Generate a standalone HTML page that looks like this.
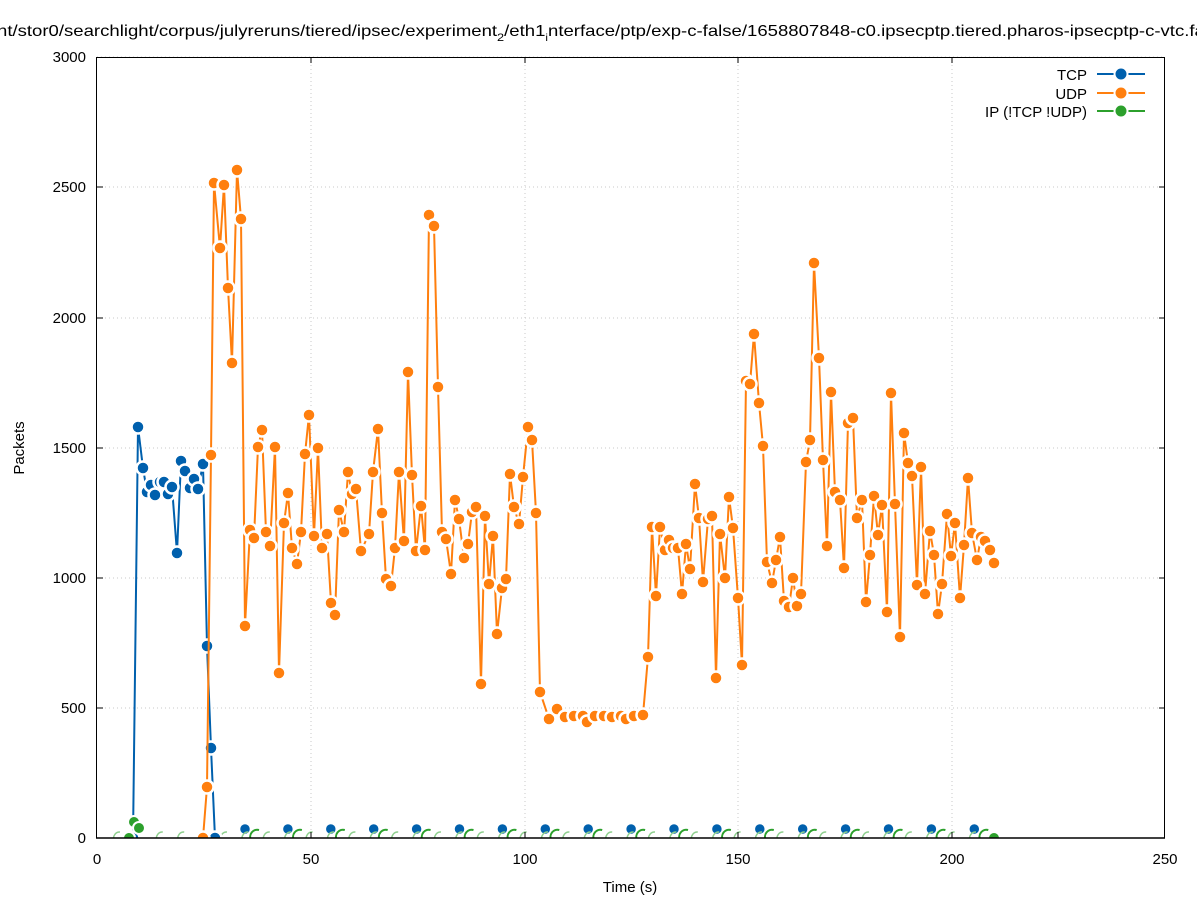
<!DOCTYPE html>
<html><head><meta charset="utf-8"><style>
body{margin:0;background:#fff;width:1197px;height:900px;overflow:hidden}
svg{font-family:"Liberation Sans","DejaVu Sans",sans-serif}
</style></head><body>
<svg id="s" width="1197" height="900" xmlns="http://www.w3.org/2000/svg">
<rect width="1197" height="900" fill="#fff"/>
<g stroke="#c8c8c8" stroke-dasharray="1,3" stroke-width="1">
<line x1="311" y1="57" x2="311" y2="838"/><line x1="525" y1="57" x2="525" y2="838"/><line x1="738" y1="57" x2="738" y2="838"/><line x1="952" y1="57" x2="952" y2="838"/>
<line x1="97" y1="708" x2="1165" y2="708"/><line x1="97" y1="578" x2="1165" y2="578"/><line x1="97" y1="448" x2="1165" y2="448"/><line x1="97" y1="318" x2="1165" y2="318"/><line x1="97" y1="187" x2="1165" y2="187"/><line x1="97" y1="57" x2="1165" y2="57"/>
</g>
<g id="data"></g>
<rect x="96.5" y="57.5" width="1068" height="780.5" fill="none" stroke="#000" stroke-width="1"/>
<line x1="96" y1="838" x2="1165" y2="838" stroke="#000" stroke-width="1.5"/>
<g stroke="#000" stroke-width="1">
<line x1="311" y1="838" x2="311" y2="832"/><line x1="525" y1="838" x2="525" y2="832"/><line x1="738" y1="838" x2="738" y2="832"/><line x1="952" y1="838" x2="952" y2="832"/>
<line x1="311" y1="57" x2="311" y2="63"/><line x1="525" y1="57" x2="525" y2="63"/><line x1="738" y1="57" x2="738" y2="63"/><line x1="952" y1="57" x2="952" y2="63"/>
<line x1="97" y1="708" x2="103" y2="708"/><line x1="97" y1="578" x2="103" y2="578"/><line x1="97" y1="448" x2="103" y2="448"/><line x1="97" y1="318" x2="103" y2="318"/><line x1="97" y1="187" x2="103" y2="187"/>
<line x1="1165" y1="708" x2="1159" y2="708"/><line x1="1165" y1="578" x2="1159" y2="578"/><line x1="1165" y1="448" x2="1159" y2="448"/><line x1="1165" y1="318" x2="1159" y2="318"/><line x1="1165" y1="187" x2="1159" y2="187"/>
</g>
<g font-size="15" fill="#000" text-anchor="end">
<text x="86" y="843">0</text><text x="86" y="713">500</text><text x="86" y="583">1000</text><text x="86" y="453">1500</text><text x="86" y="323">2000</text><text x="86" y="192">2500</text><text x="86" y="62">3000</text>
</g>
<g font-size="15" fill="#000" text-anchor="middle">
<text x="97" y="864">0</text><text x="311" y="864">50</text><text x="525" y="864">100</text><text x="738" y="864">150</text><text x="952" y="864">200</text><text x="1165" y="864">250</text>
<text x="630" y="892">Time (s)</text>
<text transform="translate(24,448) rotate(-90)">Packets</text>
</g>
<text x="-3" y="36" font-size="16" fill="#000" textLength="1212" lengthAdjust="spacingAndGlyphs">nt/stor0/searchlight/corpus/julyreruns/tiered/ipsec/experiment<tspan font-size="11" dy="5">2</tspan><tspan dy="-5">/eth1</tspan><tspan font-size="10" dy="5">i</tspan><tspan dy="-5">nterface/ptp/exp-c-false/1658807848-c0.ipsecptp.tiered.pharos-ipsecptp-c-vtc.fal</tspan></text>
<g font-size="15" fill="#000" text-anchor="end">
<text x="1087" y="80">TCP</text><text x="1087" y="99">UDP</text><text x="1087" y="117">IP (!TCP  !UDP)</text>
</g>
<g stroke-width="2">
<line x1="1097" y1="74" x2="1145" y2="74" stroke="#0060ad"/><line x1="1097" y1="93" x2="1145" y2="93" stroke="#ff7f0e"/><line x1="1097" y1="111" x2="1145" y2="111" stroke="#2ca02c"/>
</g>
<g stroke="#fff" stroke-width="2">
<circle cx="1121" cy="74" r="6.5" fill="#0060ad"/><circle cx="1121" cy="93" r="6.5" fill="#ff7f0e"/><circle cx="1121" cy="111" r="6.5" fill="#2ca02c"/>
</g>
</svg>
<script>
var O=[[207,787],[211,455],[214,183],[220,248],[224,185],[228,288],[232,363],[237,170],[241,219],[245,626],[250,530],[254,538],[258,447],[262,430],[266,532],[270,546],[275,447],[279,673],[284,523],[288,493],[292,548],[297,564],[301,532],[305,454],[309,415],[314,536],[318,448],[322,548],[327,534],[331,603],[335,615],[339,510],[344,532],[348,472],[352,494],[356,489],[361,551],[369,534],[373,472],[378,429],[382,513],[386,579],[391,586],[395,548],[399,472],[404,541],[408,372],[412,475],[416,551],[421,506],[425,550],[429,215],[434,226],[438,387],[442,532],[446,539],[451,574],[455,500],[459,519],[464,558],[468,544],[472,512],[476,507],[481,684],[485,516],[489,584],[493,536],[497,634],[502,588],[506,579],[510,474],[514,507],[519,524],[523,477],[528,427],[532,440],[536,513],[540,692],[549,719],[557,709],[565,717],[574,716],[583,716],[587,722],[595,716],[604,716],[612,717],[621,716],[626,719],[634,716],[643,715],[648,657],[652,527],[656,596],[660,527],[665,550],[669,540],[673,548],[678,548],[682,594],[686,544],[690,569],[695,484],[699,518],[703,582],[708,519],[712,516],[716,678],[720,534],[725,578],[729,497],[733,528],[738,598],[742,665],[746,381],[750,384],[754,334],[759,403],[763,446],[767,562],[772,583],[776,560],[780,537],[784,601],[789,607],[793,578],[797,606],[801,594],[806,462],[810,440],[814,263],[819,358],[823,460],[827,546],[831,392],[835,492],[840,500],[844,568],[848,423],[853,418],[857,518],[862,500],[866,602],[870,555],[874,496],[878,535],[882,505],[887,612],[891,393],[895,504],[900,637],[904,433],[908,463],[912,476],[917,585],[921,467],[925,594],[930,531],[934,555],[938,614],[942,584],[947,514],[951,556],[955,523],[960,598],[964,545],[968,478],[972,533],[977,560],[981,537],[985,541],[990,550],[994,563]];
O.unshift([203,838]);
var T=[[133,838],[138,427],[143,468],[147,492],[151,485],[155,495],[160,482],[164,482],[168,494],[172,487],[177,553],[181,461],[185,471],[190,488],[194,479],[198,489],[203,464],[207,646],[211,748],[215,838]];
var ns="http://www.w3.org/2000/svg",g=document.getElementById('data');
g.innerHTML='<defs><clipPath id="c"><rect x="97" y="57" width="1068" height="781"/></clipPath></defs>';
var cg=document.createElementNS(ns,'g');cg.setAttribute('clip-path','url(#c)');g.appendChild(cg);
function el(t,a){var e=document.createElementNS(ns,t);for(var k in a)e.setAttribute(k,a[k]);cg.appendChild(e);return e}
function series(P,col){el('polyline',{points:P.map(function(p){return p.join(',')}).join(' '),fill:'none',stroke:col,'stroke-width':2});
P.forEach(function(p){el('circle',{cx:p[0],cy:p[1],r:6.5,fill:col,stroke:'#fff','stroke-width':2.5})});}
for(var x=245;x<=975;x+=42.9){el('circle',{cx:x,cy:829,r:6,fill:'#0060ad',stroke:'#fff','stroke-width':2.5});}
for(var x=116;x<=990;x+=21.4){el('path',{d:'M'+(x+4)+' 832 A6 6 0 0 0 '+(x-2)+' 840',fill:'none',stroke:'#8fcf8f','stroke-width':1.5});}
for(var x=253;x<=990;x+=42.9){el('path',{d:'M'+(x+6)+' 830 A7 7 0 0 0 '+(x-2)+' 840',fill:'none',stroke:'#2ca02c','stroke-width':2});}
series(T,'#0060ad');
series(O,'#ff7f0e');
[[129,838],[134,822],[139,828]].forEach(function(p){el('circle',{cx:p[0],cy:p[1],r:6,fill:'#2ca02c',stroke:'#fff','stroke-width':2})});
el('circle',{cx:994,cy:838,r:6,fill:'#2ca02c',stroke:'#fff','stroke-width':2});
</script>
</body></html>
